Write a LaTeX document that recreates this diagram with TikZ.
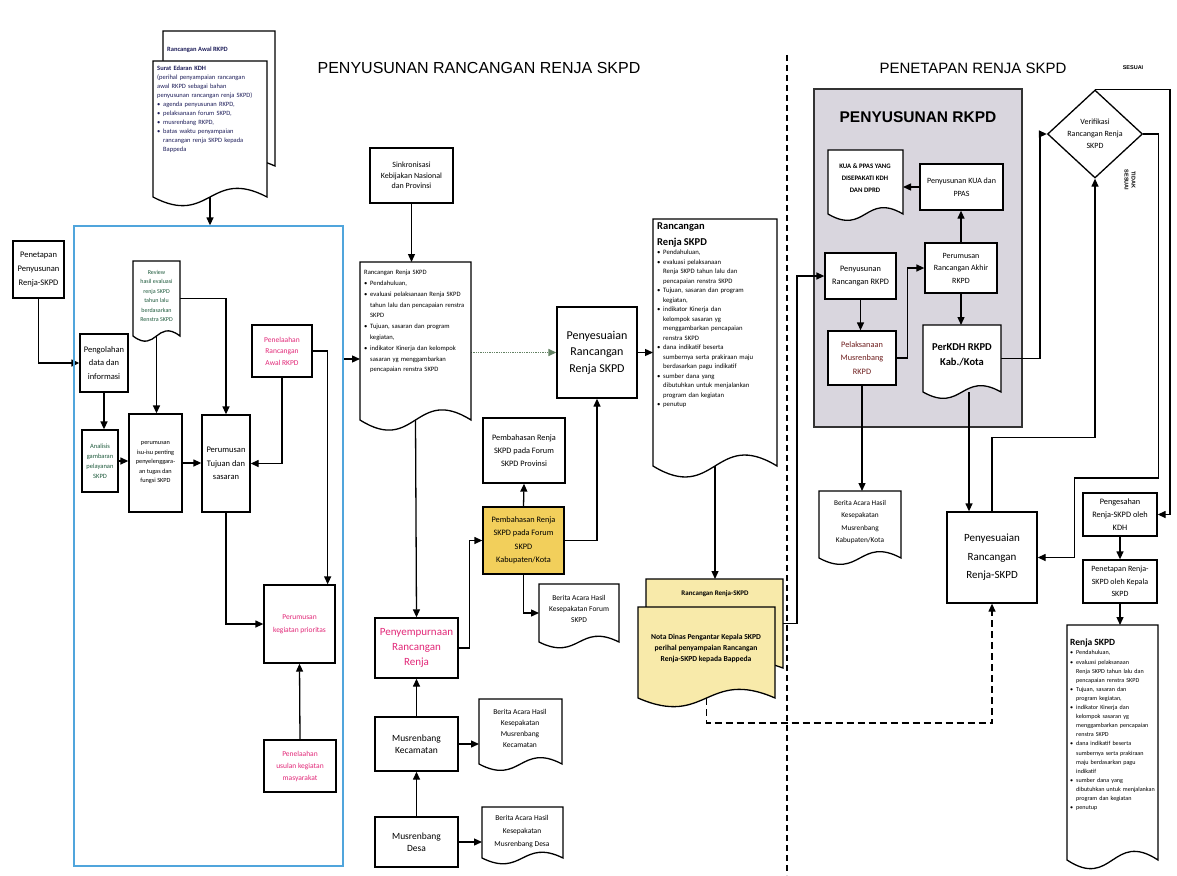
\documentclass[tikz,border=0pt]{standalone}
\usepackage{fontspec}
\setmainfont{Carlito}
\newfontfamily\arialf{Liberation Sans}
\usetikzlibrary{arrows.meta,shapes.geometric,calc}
\pgfdeclarelayer{graylayer}
\pgfdeclarelayer{edges}
\pgfsetlayers{graylayer,edges,main}
\definecolor{pinkc}{RGB}{226,40,120}
\definecolor{bluebox}{RGB}{80,165,220}
\definecolor{grayfill}{RGB}{217,214,222}
\definecolor{yelbox}{RGB}{242,207,91}
\definecolor{yeldoc}{RGB}{248,234,170}
\definecolor{navy}{RGB}{30,30,90}
\definecolor{dgreen}{RGB}{30,90,60}
\definecolor{dotc}{RGB}{100,130,100}
\definecolor{dred}{RGB}{110,30,30}
\newcommand\fsz[2]{\fontsize{#1}{#2}\selectfont}
\newcommand\bitem[1]{\par\noindent\makebox[6pt][l]{\textbullet}\parbox[t]{\dimexpr\hsize-6pt\relax}{\raggedright\strut #1\strut}\par\prevdepth=\dp\strutbox}
\tikzset{
  box/.style={draw, line width=1.3pt, fill=white, align=center, inner sep=1pt, font=\fsz{8}{12}},
  docline/.style={draw, line width=1.3pt},
  arr/.style={line width=1.3pt, -{Triangle[length=8pt,width=7pt]}},
  txt/.style={align=left, inner sep=0pt, font=\fsz{6.5}{9}},
  ctxt/.style={align=center, inner sep=0pt, font=\fsz{7.5}{11}},
}
\newcommand\bx[7][]{\node[box,minimum width={#5-#3},minimum height={#6-#4},#1] (#2) at ({(#3+#5)/2},{(#4+#6)/2}) {#7};}
\newcommand\docshp[7]{%
  \path[docline,fill=#6] (#2,#3) -- (#4,#3) -- (#4,#5) .. controls ({(#2+#4)/2},{#5-#7}) and ({(#2+#4)/2},{#5+#7}) .. (#2,#5) -- cycle;
  \node[inner sep=0pt,outer sep=0pt,minimum width={#4-#2},minimum height={#5-#3}] (#1) at ({(#2+#4)/2},{(#3+#5)/2}) {};
}
\begin{document}
\begin{tikzpicture}[x=1pt,y=-1pt]
\useasboundingbox (0,0) rectangle (1177,875);

% titles
\node[font=\arialf\fsz{16}{18}] (t1) at (479,68) {PENYUSUNAN RANCANGAN RENJA SKPD};
\node[font=\arialf\fsz{15}{18}] (t2) at (973,68) {PENETAPAN RENJA SKPD};

% divider
\coordinate (divtop) at (787,55);
\coordinate (divbot) at (787,875);
\draw[line width=1.2pt, dash pattern=on 6pt off 4pt] (divtop) -- (divbot);

% blue frame
\node[draw=bluebox, line width=1.3pt, minimum width=269, minimum height=640, inner sep=0pt] (blue) at (208.5,546) {};

% gray RKPD frame
\begin{pgfonlayer}{graylayer}
\node[draw=black!80, line width=1.5pt, fill=grayfill, minimum width=208, minimum height=338, inner sep=0pt] (rkpd) at (918,258) {};
\end{pgfonlayer}
\node[font=\arialf\bfseries\fsz{15.5}{17}] (rkpdt) at (918,117) {PENYUSUNAN RKPD};

% ---------- documents ----------
\docshp{awalB}{163}{31}{275}{166}{white}{25}
\node[txt, anchor=west, font=\fsz{6.5}{8}\bfseries, text=navy] (awalBt) at (167,50) {Rancangan Awal RKPD};
\docshp{awalF}{153}{61}{267}{197}{white}{30}
\node[txt, anchor=north west, text width=110pt, text=navy] (awalFt) at (157,66) {\noindent\textbf{Surat Edaran KDH}\\ (perihal penyampaian rancangan\\ awal RKPD sebagai bahan\\ penyusunan rancangan renja SKPD)\bitem{agenda penyusunan RKPD,}\bitem{pelaksanaan forum SKPD,}\bitem{musrenbang RKPD,}\bitem{batas waktu penyampaian\\ rancangan renja SKPD kepada\\ Bappeda}};

\docshp{review}{133}{261}{180}{336}{white}{18}
\node[ctxt, font=\fsz{6}{9.4}, text=dgreen] (reviewt) at (156.5,296) {Review\\hasil evaluasi\\renja SKPD\\tahun lalu\\berdasarkan\\Renstra SKPD};

\docshp{rrmid}{360}{262}{471}{420}{white}{35}
\node[txt, anchor=north west, text width=108pt, font=\fsz{6.6}{10.8}] (rrmidt) at (364,270) {\noindent Rancangan Renja SKPD\bitem{Pendahuluan,}\bitem{evaluasi pelaksanaan Renja SKPD\\ tahun lalu dan pencapaian renstra\\ SKPD}\bitem{Tujuan, sasaran dan program\\ kegiatan,}\bitem{indikator Kinerja dan kelompok\\ sasaran yg menggambarkan\\ pencapaian renstra SKPD}};

\docshp{rr2}{653}{219}{777}{466}{white}{38}
\node[txt, anchor=north west, text width=118pt, font=\fsz{6.7}{9.5}] (rr2t) at (657,222) {\noindent{\fsz{10.5}{16}\bfseries Rancangan\\ Renja SKPD\par}\bitem{Pendahuluan,}\bitem{evaluasi pelaksanaan\\ Renja SKPD tahun lalu dan\\ pencapaian renstra SKPD}\bitem{Tujuan, sasaran dan program\\ kegiatan,}\bitem{indikator Kinerja dan\\ kelompok sasaran yg\\ menggambarkan pencapaian\\ renstra SKPD}\bitem{dana indikatif beserta\\ sumbernya serta prakiraan maju\\ berdasarkan pagu indikatif}\bitem{sumber dana yang\\ dibutuhkan untuk menjalankan\\ program dan kegiatan}\bitem{penutup}};

\docshp{yb}{646}{579}{783}{668}{yeldoc}{25}
\node[font=\fsz{7}{8}\bfseries] (ybt) at (715,594) {Rancangan Renja-SKPD};
\docshp{nota}{638}{607}{775}{698}{yeldoc}{30}
\node[ctxt, font=\fsz{7.6}{11}\bfseries] (notat) at (706,648) {Nota Dinas Pengantar Kepala SKPD\\ perihal penyampaian Rancangan\\ Renja-SKPD kepada Bappeda};

\docshp{bfor}{539}{584}{619}{642}{white}{20}
\node[ctxt] (bfort) at (579,609) {Berita Acara Hasil\\Kesepakatan Forum\\SKPD};
\docshp{bkec}{479}{699}{562}{764}{white}{22}
\node[ctxt] (bkect) at (520,728) {Berita Acara Hasil\\Kesepakatan\\Musrenbang\\Kecamatan};
\docshp{bdesa}{482}{807}{563}{858}{white}{20}
\node[ctxt, font=\fsz{7.5}{13}] (bdesat) at (522,832) {Berita Acara Hasil\\Kesepakatan\\Musrenbang Desa};

\docshp{kua}{828}{150}{903}{214}{white}{22}
\node[ctxt, font=\fsz{6.8}{12}\bfseries] (kuat) at (865,178) {KUA \& PPAS YANG\\DISEPAKATI KDH\\DAN DPRD};
\docshp{perkdh}{923}{325}{1001}{392}{white}{22}
\node[ctxt, font=\fsz{10.5}{15}\bfseries] (perkdht) at (962,355) {PerKDH RKPD\\Kab./Kota};
\docshp{bkab}{819}{491}{901}{558}{white}{22}
\node[ctxt, font=\fsz{7.3}{12.5}] (bkabt) at (860,522) {Berita Acara Hasil\\Kesepakatan\\Musrenbang\\Kabupaten/Kota};

\docshp{renja}{1067}{625}{1158}{860}{white}{30}
\node[txt, anchor=north west, text width=90pt, font=\fsz{6.1}{9.1}] (renjat) at (1070,639) {\noindent{\fsz{9.5}{12}\bfseries Renja SKPD\par}\bitem{Pendahuluan,}\bitem{evaluasi pelaksanaan\\ Renja SKPD tahun lalu dan\\ pencapaian renstra SKPD}\bitem{Tujuan, sasaran dan\\ program kegiatan,}\bitem{indikator Kinerja dan\\ kelompok sasaran yg\\ menggambarkan pencapaian\\ renstra SKPD}\bitem{dana indikatif beserta\\ sumbernya serta prakiraan\\ maju berdasarkan pagu\\ indikatif}\bitem{sumber dana yang\\ dibutuhkan untuk menjalankan\\ program dan kegiatan}\bitem{penutup}};

% ---------- boxes ----------
\bx[font=\fsz{8.5}{14}]{pen}{13}{241}{64}{298}{Penetapan\\Penyusunan\\Renja-SKPD}
\bx[font=\fsz{8.5}{13.5}]{peng}{80}{334}{128}{392}{Pengolahan\\data dan\\informasi}
\bx[font=\fsz{6.5}{10}, text=dgreen]{ana}{82}{430}{118}{492}{Analisis\\gambaran\\pelayanan\\SKPD}
\bx[font=\fsz{6.3}{9.5}]{isu}{129}{414}{182}{512}{perumusan\\isu-isu penting\\penyelenggara-\\an tugas dan\\fungsi SKPD}
\bx[font=\fsz{8.5}{13.5}]{tujuan}{202}{415}{250}{512}{Perumusan\\Tujuan dan\\sasaran}
\bx[font=\fsz{7.5}{11.5}, text=pinkc]{telaah}{252}{325}{312}{377}{Penelaahan\\Rancangan\\Awal RKPD}
\bx[font=\fsz{7.5}{13}, text=pinkc]{kegiatan}{264}{585}{335}{663}{Perumusan\\kegiatan prioritas}
\bx[font=\fsz{7.5}{12}, text=pinkc]{usulan}{264}{740}{336}{792}{Penelaahan\\usulan kegiatan\\masyarakat}
\bx[font=\fsz{8}{10.5}]{sinkron}{370}{148}{453}{203}{Sinkronisasi\\Kebijakan Nasional\\dan Provinsi}
\bx[font=\fsz{12}{16.5}]{peny1}{557}{307}{637}{398}{Penyesuaian\\Rancangan\\Renja SKPD}
\bx[font=\fsz{8.3}{13}]{prov}{483}{418}{565}{483}{Pembahasan Renja\\SKPD pada Forum\\SKPD Provinsi}
\bx[font=\fsz{8.3}{13.5}, fill=yelbox]{kab}{483}{507}{564}{574}{Pembahasan Renja\\SKPD pada Forum\\SKPD\\Kabupaten/Kota}
\bx[font=\fsz{11}{15}, text=pinkc]{penyemp}{375}{618}{458}{678}{Penyempurnaan\\Rancangan\\Renja}
\bx[font=\fsz{9.5}{11.5}]{kec}{375}{717}{458}{771}{Musrenbang\\Kecamatan}
\bx[font=\fsz{9.5}{11.5}]{desa}{375}{817}{458}{867}{Musrenbang\\Desa}
\bx[font=\fsz{8}{13}]{pkua}{920}{164}{1003}{210}{Penyusunan KUA dan\\PPAS}
\bx[font=\fsz{8}{12.5}]{pakhir}{925}{243}{997}{293}{Perumusan\\Rancangan Akhir\\RKPD}
\bx[font=\fsz{8.3}{13}]{pranc}{825}{253}{896}{299}{Penyusunan\\Rancangan RKPD}
\bx[font=\fsz{8.3}{13.5}, text=dred]{pmus}{828}{331}{896}{385}{Pelaksanaan\\Musrenbang\\RKPD}
\bx[font=\fsz{11}{18.5}]{pens2}{947}{512}{1037}{603}{Penyesuaian\\Rancangan\\Renja-SKPD}
\bx[font=\fsz{8.3}{13}]{pgs}{1083}{493}{1157}{536}{Pengesahan\\Renja-SKPD oleh\\KDH}
\bx[font=\fsz{8}{12.5}]{pnt}{1083}{560}{1157}{603}{Penetapan Renja-\\SKPD oleh Kepala\\SKPD}

\node[draw, diamond, line width=1.3pt, fill=white, minimum width=95pt, minimum height=88pt, inner sep=0pt, align=center, font=\fsz{8}{12}] (ver) at (1095,134) {Verifikasi\\Rancangan Renja\\SKPD};
\node[font=\arialf\fsz{5.5}{6}\bfseries] (lsesuai) at (1133,68) {SESUAI};
\node[font=\arialf\fsz{5.5}{7}\bfseries, rotate=-90, align=center] (ltidak) at (1130,180) {TIDAK\\SESUAI};

% ---------- connectors ----------
\begin{pgfonlayer}{edges}
\draw[arr] (awalF.south) -- (awalF.south |- blue.north);
\draw[arr] (pen.south) |- (peng.west);
\draw[arr] (peng.south) -- (peng.south |- ana.north);
\draw[arr] (ana.east) -- (ana.east -| isu.west);
\draw[arr] (review.south) -- (review.south |- isu.north);
\draw[arr] (review.east) -| (tujuan.north);
\draw[arr] (isu.east) -- (isu.east -| tujuan.west);
\draw[arr] (telaah.south) |- (tujuan.east);
\coordinate (kegin) at ([xshift=-8pt]kegiatan.north east);
\draw[arr] (telaah.east) -| (kegin);
\draw[arr] (tujuan.south) |- (kegiatan.west);
\draw[arr] (usulan.north) -- (kegiatan.south);
\coordinate (c12) at ([yshift=-18pt]rrmid.west);
\draw[arr] (c12 -| blue.east) -- (c12);
\draw[arr] (sinkron.south) -- (sinkron.south |- rrmid.north);
\draw[arr, draw=dotc, densely dotted] (rrmid.east |- peny1.west) -- (peny1.west);
\draw[arr] (rrmid.south) -- (penyemp.north);
\draw[arr] (penyemp.east) -- ++(11,0) |- (kab.west);
\draw[arr] (kab.north) -- (prov.south);
\draw[arr] (kab.east) -| (peny1.south);
\draw[arr] (kab.south) |- (bfor.west);
\draw[arr] (kec.north) -- (penyemp.south);
\draw[arr] (kec.east) -- (kec.east -| bkec.west);
\draw[arr] (desa.north) -- (kec.south);
\draw[arr] (desa.east) -- (desa.east -| bdesa.west);
\draw[arr] (peny1.east) -- (peny1.east -| rr2.west);
\draw[arr] (rr2.south) -- (rr2.south |- yb.north);
\draw[arr] (yb.east) -- ++(14,0) |- (pranc.west);
\draw[arr, dash pattern=on 7pt off 4pt] (nota.south) -- ++(0,25) -| (pens2.south);
\draw[arr] (pranc.south) -- (pranc.south |- pmus.north);
\draw[arr] (pmus.east) -- ++(11,0) |- (pakhir.west);
\draw[arr] (pakhir.north) -- (pakhir.north |- pkua.south);
\draw[arr] (pkua.west) -- (pkua.west -| kua.east);
\draw[arr] (pakhir.south) -- (pakhir.south |- perkdh.north);
\draw[arr] (pmus.south) -- (pmus.south |- bkab.north);
\draw[arr] (perkdh.east) -- ++(39,0) |- (ver.west);
\coordinate (c35) at ([xshift=7pt]perkdh.south);
\draw[arr] (c35) -- (c35 |- pens2.north);
\draw[arr] (pens2.north) -- ++(0,-74) -| (ver.south);
\draw[arr] (ver.north) -- ++(75,0) |- (pgs.east);
\coordinate (c38) at ([xshift=37pt]pens2.east);
\draw[arr] (ver.east) -- ++(15,0) -- ++(0,344) -| (c38) -- (pens2.east);
\draw[arr] (pgs.south) -- (pnt.north);
\draw[arr] (pnt.south) -- (pnt.south |- renja.north);
\end{pgfonlayer}
\end{tikzpicture}
\end{document}
